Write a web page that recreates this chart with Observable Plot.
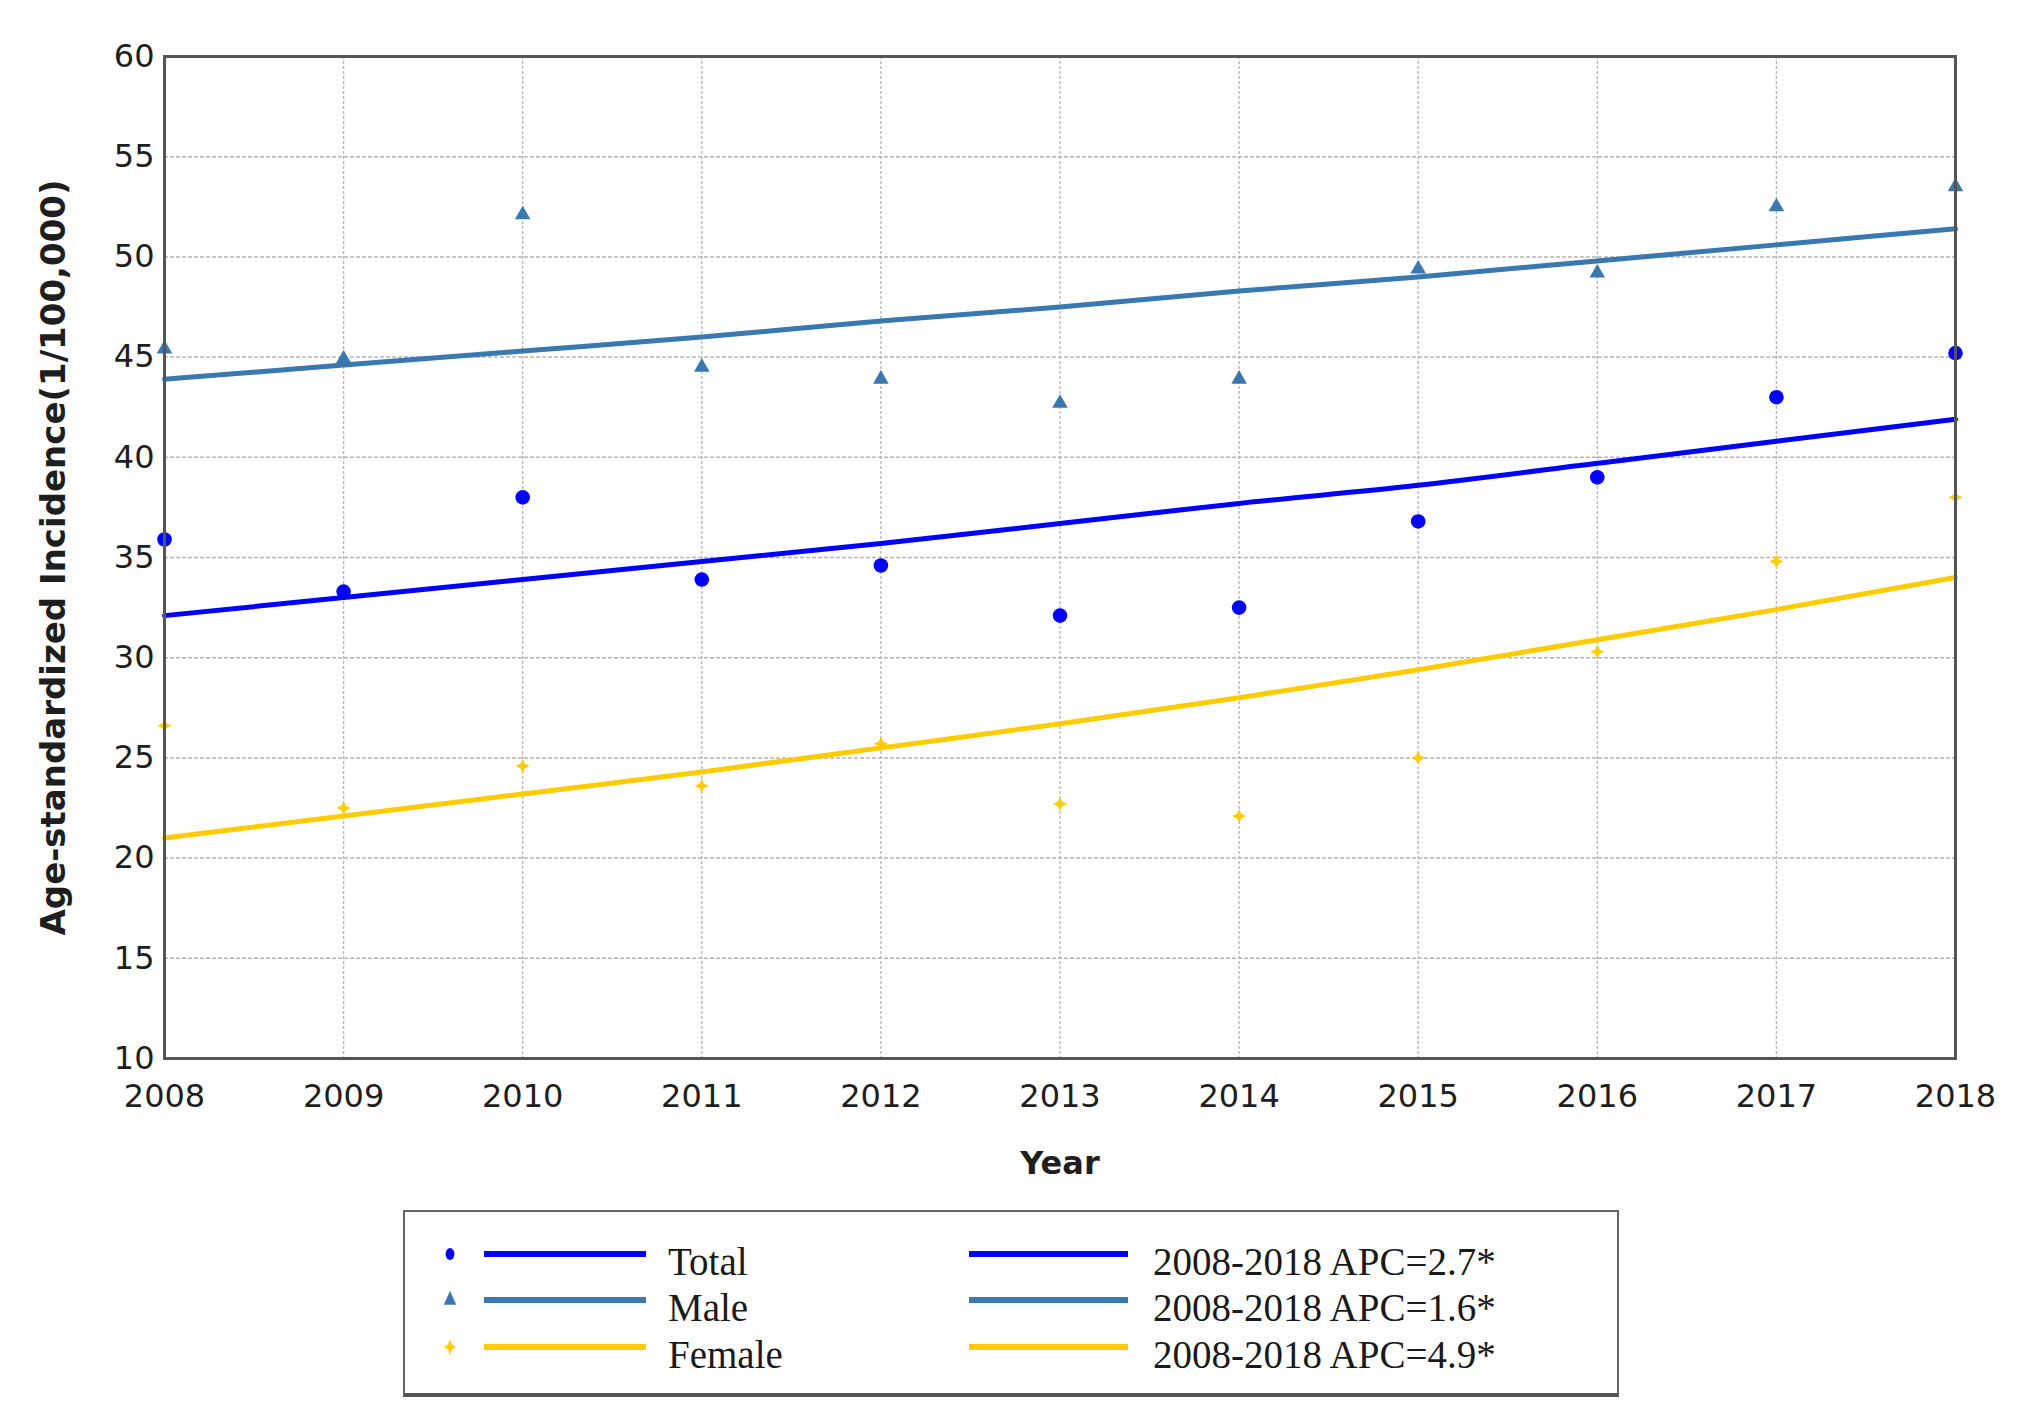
<!DOCTYPE html>
<html>
<head>
<meta charset="utf-8">
<script src="https://cdn.jsdelivr.net/npm/d3@7"></script>
<script src="https://cdn.jsdelivr.net/npm/@observablehq/plot@0.6"></script>
<style>
  html, body { margin: 0; padding: 0; background: #fff; }
  #wrap { position: relative; width: 2031px; height: 1419px; background: #fff; overflow: hidden; }
  #chart { position: absolute; left: 0; top: 0; }
  #legend { position: absolute; left: 403px; top: 1210px; width: 1216px; height: 187px;
            border: 2px solid #666; border-bottom: 4px solid #555; box-sizing: border-box; background: #fff; }
  #legend svg { position: absolute; left: 0; top: 0; }
</style>
</head>
<body>
<div id="wrap">
  <div id="chart"></div>
  <div id="legend"></div>
</div>
<script>
// ---- data ----
const years = [2008, 2009, 2010, 2011, 2012, 2013, 2014, 2015, 2016, 2017, 2018];
const totalRate  = [35.9, 33.3, 38.0, 33.9, 34.6, 32.1, 32.5, 36.8, 39.0, 43.0, 45.2];
const maleRate   = [45.4, 44.9, 52.1, 44.5, 43.9, 42.7, 43.9, 49.4, 49.2, 52.5, 53.5];
const femaleRate = [26.6, 22.5, 24.6, 23.6, 25.7, 22.7, 22.1, 25.0, 30.3, 34.8, 38.0];
const totalFit   = [32.1, 33.0, 33.9, 34.8, 35.7, 36.7, 37.7, 38.6, 39.7, 40.8, 41.9];
const maleFit    = [43.9, 44.6, 45.3, 46.0, 46.8, 47.5, 48.3, 49.0, 49.8, 50.6, 51.4];
const femaleFit  = [21.0, 22.1, 23.2, 24.3, 25.5, 26.7, 28.0, 29.4, 30.9, 32.4, 34.0];
const seriesNames = ["Total", "Male", "Female"];
const seriesColors = ["#0000ff", "#3a78b0", "#ffcc00"];
const apcLabels = ["2008-2018 APC=2.7*", "2008-2018 APC=1.6*", "2008-2018 APC=4.9*"];
const yTicks = [10, 15, 20, 25, 30, 35, 40, 45, 50, 55, 60];
const xLabel = "Year";
const yLabel = "Age-standardized Incidence(1/100,000)";

// four-pointed star used for the Female markers
const star4 = {
  draw(ctx, size) {
    const r = Math.sqrt(size) * 0.8, i = r * 0.32;
    ctx.moveTo(0, -r); ctx.lineTo(i, -i); ctx.lineTo(r, 0); ctx.lineTo(i, i);
    ctx.lineTo(0, r); ctx.lineTo(-i, i); ctx.lineTo(-r, 0); ctx.lineTo(-i, -i); ctx.closePath();
  }
};
const seriesSymbols = [d3.symbolCircle, d3.symbolTriangle, star4];

// ---- build tables ----
const rates = [totalRate, maleRate, femaleRate];
const fits = [totalFit, maleFit, femaleFit];
const points = [], lines = [];
seriesNames.forEach((s, k) => {
  years.forEach((yr, i) => {
    points.push({year: yr, value: rates[k][i], series: s});
    lines.push({year: yr, value: fits[k][i], series: s});
  });
});

const W = 2031, H = 1205;
const color = {domain: seriesNames, range: seriesColors};
const symbol = {domain: seriesNames, range: seriesSymbols};

const plot = Plot.plot({
  width: W, height: H,
  marginLeft: 164, marginRight: 76, marginTop: 56, marginBottom: H - 1058,
  style: {fontFamily: "'DejaVu Sans', Verdana, sans-serif", fontSize: "32px", color: "#222", background: "#fff"},
  x: {domain: [2008, 2018]},
  y: {domain: [10, 60]},
  color, symbol,
  marks: [
    Plot.gridX(years, {stroke: "#b5b5b5", strokeOpacity: 1, strokeWidth: 1.3, strokeDasharray: "3,2"}),
    Plot.gridY(yTicks, {stroke: "#b5b5b5", strokeOpacity: 1, strokeWidth: 1.5, strokeDasharray: "4,2"}),
    Plot.axisX(years, {tickSize: 0, tickPadding: 26, tickFormat: d => String(d), label: null, fill: "#1e1e1e"}),
    Plot.axisY(yTicks, {tickSize: 0, tickPadding: 10, label: null, fill: "#1e1e1e"}),
    Plot.line(lines, {x: "year", y: "value", z: "series", stroke: d => d.series, strokeWidth: 5, curve: "monotone-x"}),
    Plot.dot(points.filter(d => d.series === "Female"), {x: "year", y: "value", fill: "series", symbol: "series", r: 5}),
    Plot.dot(points.filter(d => d.series === "Male"), {x: "year", y: "value", fill: "series", symbol: "series", r: 5.8}),
    Plot.dot(points.filter(d => d.series === "Total"), {x: "year", y: "value", fill: "series", symbol: "series", r: 7.3}),
    Plot.frame({stroke: "#555", strokeWidth: 3}),
    Plot.text([yLabel], {frameAnchor: "left", dx: -110, rotate: -90, textAnchor: "middle", fontWeight: "bold", fontSize: 34, fill: "#1e1e1e"}),
    Plot.text([xLabel], {frameAnchor: "bottom", dy: 115, fontWeight: "bold", fontSize: 32, fill: "#1e1e1e"})
  ]
});
document.getElementById("chart").appendChild(plot);

// ---- legend ----
const lg = d3.select("#legend").append("svg").attr("width", 1212).attr("height", 181);
const rowY = [42, 88, 135];
const symR = [4.4, 4.6, 4.2];
const symScaleY = [1.35, 1.3, 1.3];
seriesNames.forEach((s, k) => {
  const y = rowY[k];
  lg.append("path")
    .attr("d", d3.symbol(seriesSymbols[k], Math.PI * symR[k] * symR[k])())
    .attr("transform", `translate(45,${y}) scale(1,${symScaleY[k]})`)
    .attr("fill", seriesColors[k]);
  lg.append("line").attr("x1", 79).attr("x2", 241).attr("y1", y).attr("y2", y)
    .attr("stroke", seriesColors[k]).attr("stroke-width", 6);
  lg.append("text").attr("x", 263).attr("y", y + 21).text(s)
    .attr("font-family", "'Liberation Serif', 'Times New Roman', serif").attr("font-size", 39).attr("fill", "#1a1a1a");
  lg.append("line").attr("x1", 564).attr("x2", 723).attr("y1", y).attr("y2", y)
    .attr("stroke", seriesColors[k]).attr("stroke-width", 6);
  lg.append("text").attr("x", 748).attr("y", y + 21).text(apcLabels[k])
    .attr("font-family", "'Liberation Serif', 'Times New Roman', serif").attr("font-size", 39).attr("fill", "#1a1a1a");
});
</script>
</body>
</html>
